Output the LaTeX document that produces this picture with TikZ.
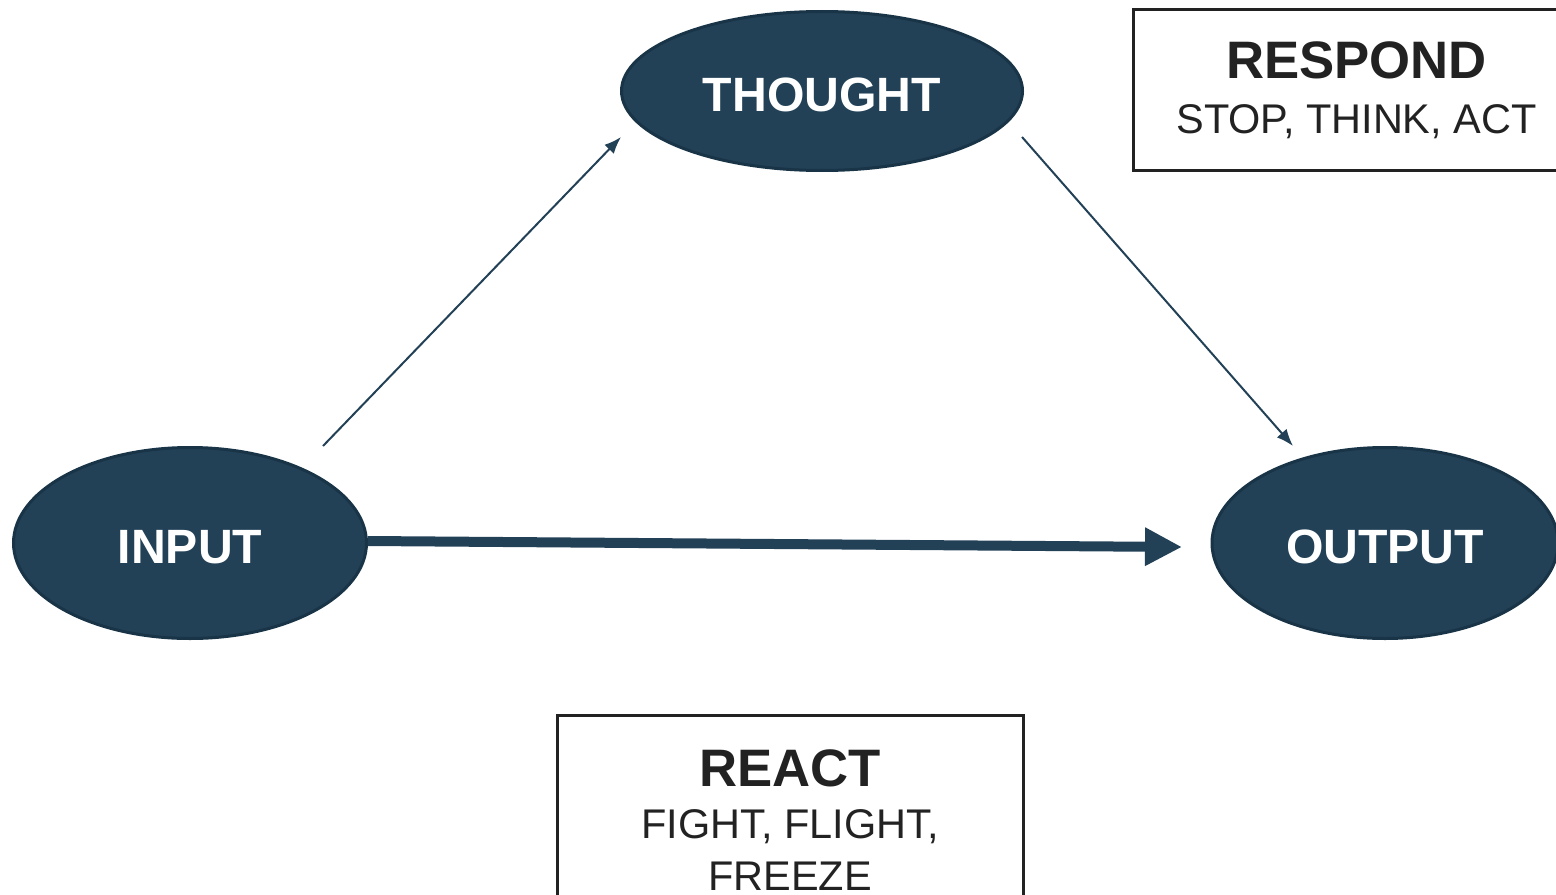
\documentclass[tikz,border=0pt]{standalone}
\usepackage{fontspec}
\setmainfont{Liberation Sans}
\usepackage[usenames,dvipsnames]{xcolor}
\usetikzlibrary{shapes.geometric,arrows.meta}
\definecolor{stateblue}{HTML}{224157}
\definecolor{stateedge}{HTML}{183446}
\definecolor{inkgray}{HTML}{222222}
\tikzset{
	state/.style={ellipse,draw=stateedge,fill=stateblue,line width=0.03cm,inner sep=0pt,text height=0.42cm,text=white,font=\fontsize{13.7}{16}\selectfont\bfseries},
	notebox/.style={rectangle,draw=inkgray,line width=0.03cm,text=inkgray,align=center,inner sep=0pt},
	thin link/.style={draw=stateblue,line width=0.02cm,-{Latex[length=0.17cm,width=0.13cm]}},
	thick link/.style={draw=stateblue,line width=0.1cm,-{Triangle[length=0.37cm,width=0.36cm]}}
}

\begin{document}
\begin{tikzpicture}
		\useasboundingbox (0,0) rectangle (15.56,8.94);
		\clip (0,0) rectangle (15.56,8.94);
		
		\node[state,minimum width=4.01cm,minimum height=1.59cm] (thought) at (8.22,8.03) {THOUGHT};
		\node[state,minimum width=3.53cm,minimum height=1.91cm] (input) at (1.90,3.51) {INPUT};
		\node[state,minimum width=3.46cm,minimum height=1.91cm] (output) at (13.85,3.51) {OUTPUT};
		
		\node[notebox,minimum width=4.47cm,minimum height=1.60cm,font=\fontsize{11.8}{15.6}\selectfont] (respond) at (13.565,8.04)
			{{\fontsize{15}{18}\selectfont\bfseries RESPOND}\\
			STOP, THINK, ACT};
		\node[notebox,anchor=north,minimum width=4.66cm,inner ysep=0.34cm,font=\fontsize{11.8}{14.8}\selectfont] (react) at (7.90,1.80)
			{{\fontsize{15}{18}\selectfont\bfseries REACT}\\
			FIGHT, FLIGHT,\\
			FREEZE};
		
		\coordinate (in-up) at (3.23,4.48);
		\coordinate (th-in) at (6.21,7.57);
		\coordinate (th-out) at (10.22,7.57);
		\coordinate (out-in) at (12.93,4.48);
		\coordinate (out-left) at (11.82,3.47);
		
		\draw[thin link] (in-up) -- (th-in);
		\draw[thin link] (th-out) -- (out-in);
		\draw[thick link] ([yshift=0.02cm]input.east) -- (out-left);
		\end{tikzpicture}
\end{document}
